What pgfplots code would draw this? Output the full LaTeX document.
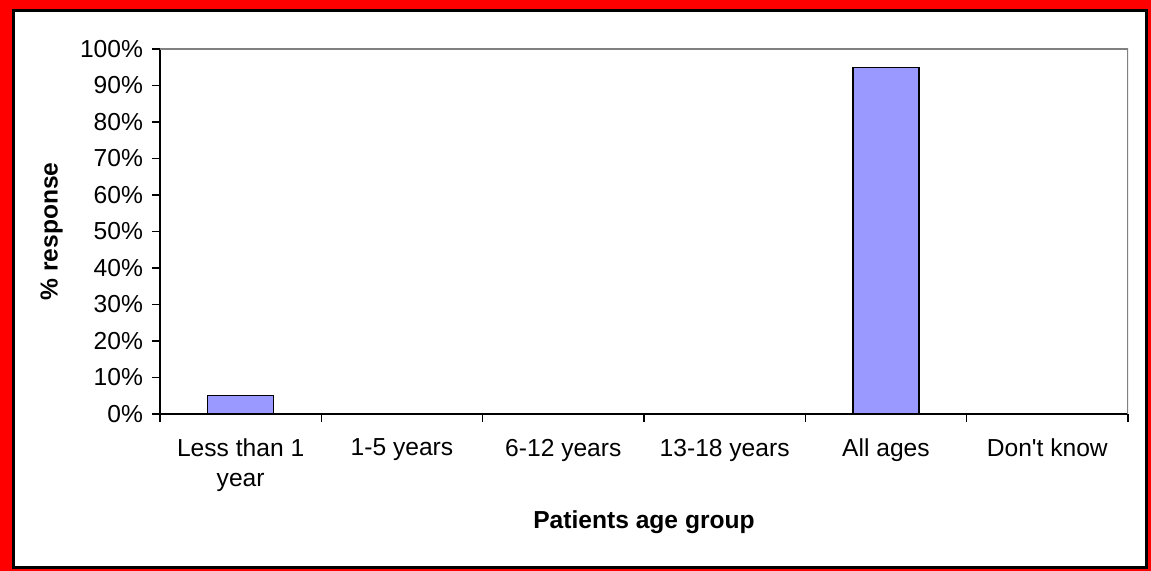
\documentclass[border=0pt]{standalone}
\usepackage{pgfplots}
\pgfplotsset{compat=1.18}
\usepackage{fontspec}
\setmainfont{Liberation Sans}
\definecolor{barblue}{RGB}{153,153,255}
\begin{document}
\begin{tikzpicture}
\fill[red] (0,0) rectangle (575.5pt,-285.5pt);
\draw[black, line width=1.5pt, fill=white] (6.75pt,-5.25pt) rectangle (573.25pt,-283.5pt);
\begin{axis}[
  at={(80pt,-207pt)}, anchor=south west,
  scale only axis, width=484pt, height=182.5pt,
  xmin=-0.5, xmax=5.5, ymin=0, ymax=100,
  ybar, bar width=0.41,
  axis x line*=bottom, axis y line*=left,
  axis line style={black, line width=0.7pt},
  tick style={black, line width=0.7pt},
  tick align=outside, major tick length=4pt,
  xtick={-0.5,0.5,1.5,2.5,3.5,4.5,5.5},
  x tick label as interval,
  xticklabels={{Less than 1\\year},{1-5 years},{6-12 years},{13-18 years},{All ages},{Don\textquotesingle t know}},
  xticklabel style={align=center, yshift=-5pt},
  yticklabel style={xshift=-1pt},
  ytick={0,10,20,30,40,50,60,70,80,90,100},
  yticklabels={0\%,10\%,20\%,30\%,40\%,50\%,60\%,70\%,80\%,90\%,100\%},
  tick label style={font=\fontsize{12.3}{15}\selectfont},
  label style={font=\bfseries\fontsize{12.3}{15}\selectfont},
  xlabel={Patients age group},
  ylabel={\% response},
  xlabel style={at={(axis description cs:0.5,-0.296)}, anchor=center},
  ylabel style={at={(axis description cs:-0.112,0.5)}, anchor=center},
]
\addplot[fill=barblue, draw=black, line width=0.7pt]
  coordinates {(0,5) (1,0) (2,0) (3,0) (4,95) (5,0)};
\draw[gray, line width=0.7pt] (rel axis cs:0,1) -- (rel axis cs:1,1) -- (rel axis cs:1,0);
\end{axis}
\end{tikzpicture}
\end{document}
